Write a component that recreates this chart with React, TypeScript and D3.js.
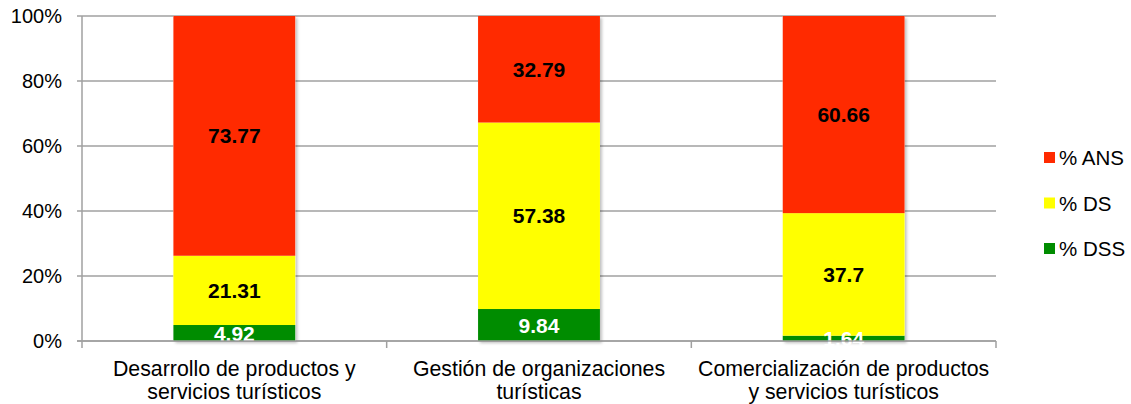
import React, { useEffect, useRef } from 'react';
import * as d3 from 'd3';

const categories = [
  ['Desarrollo de productos y', 'servicios turísticos'],
  ['Gestión de organizaciones', 'turísticas'],
  ['Comercialización de productos', 'y servicios turísticos'],
];
const seriesNames = ['% DSS', '% DS', '% ANS'];
const dss = [4.92, 9.84, 1.64];
const ds = [21.31, 57.38, 37.7];
const ans = [73.77, 32.79, 60.66];
const yTicks = [0, 20, 40, 60, 80, 100];

const colors = ['#008C00', '#FFFF00', '#FF2A00'];
const labelColors = ['#ffffff', '#000000', '#000000'];

const App = () => {
  const ref = useRef<SVGSVGElement>(null);

  useEffect(() => {
    const svg = d3.select(ref.current);
    svg.selectAll('*').remove();
    const font = 'Arial, "Liberation Sans", sans-serif';
    const left = 82, right = 996, top = 16, bottom = 341;

    const x = d3.scaleBand<number>()
      .domain(d3.range(categories.length))
      .range([left, right])
      .paddingInner(0.6)
      .paddingOuter(0.3);
    const y = d3.scaleLinear().domain([0, 100]).range([bottom, top]);

    const rows = categories.map((_, i) => ({ i, '% DSS': dss[i], '% DS': ds[i], '% ANS': ans[i] }));
    const stacked = d3.stack<any>().keys(seriesNames)(rows);

    // grid
    svg.append('g').selectAll('line').data(yTicks).join('line')
      .attr('x1', left - 5).attr('x2', right)
      .attr('y1', d => y(d)).attr('y2', d => y(d))
      .attr('stroke', '#A0A0A0').attr('stroke-width', 1.5);

    svg.append('g').selectAll('text').data(yTicks).join('text')
      .attr('x', 62).attr('y', d => y(d)).attr('dy', '0.36em')
      .attr('text-anchor', 'end')
      .style('font-family', font).style('font-size', '20px')
      .text(d => `${d}%`);

    // axes
    svg.append('line').attr('x1', left).attr('x2', left).attr('y1', top).attr('y2', bottom + 7)
      .attr('stroke', '#A0A0A0').attr('stroke-width', 1.5);
    const step = x.step();
    svg.append('g').selectAll('line').data(d3.range(1, categories.length + 1)).join('line')
      .attr('x1', d => left + d * step).attr('x2', d => left + d * step)
      .attr('y1', bottom).attr('y2', bottom + 7)
      .attr('stroke', '#A0A0A0').attr('stroke-width', 1.5);

    // shadow filter
    const defs = svg.append('defs');
    const f = defs.append('filter').attr('id', 'sh').attr('x', '-10%').attr('y', '-10%').attr('width', '130%').attr('height', '130%');
    f.append('feDropShadow').attr('dx', 2).attr('dy', 2).attr('stdDeviation', 1.5)
      .attr('flood-color', '#000').attr('flood-opacity', 0.25);

    const barsG = svg.append('g');
    barsG.append('g').attr('filter', 'url(#sh)').selectAll('rect')
      .data(categories.map((_, i) => i)).join('rect')
      .attr('x', i => x(i)!).attr('width', x.bandwidth())
      .attr('y', y(100)).attr('height', y(0) - y(100)).attr('fill', '#fff');

    stacked.forEach((s, si) => {
      barsG.append('g').selectAll('rect').data(s).join('rect')
        .attr('x', (_, i) => x(i)!).attr('width', x.bandwidth())
        .attr('y', d => y(d[1])).attr('height', d => y(d[0]) - y(d[1]))
        .attr('fill', colors[si]);
    });

    stacked.forEach((s, si) => {
      barsG.append('g').selectAll('text').data(s).join('text')
        .attr('x', (_, i) => x(i)! + x.bandwidth() / 2)
        .attr('y', d => (y(d[0]) + y(d[1])) / 2).attr('dy', '0.36em')
        .attr('text-anchor', 'middle')
        .style('font-family', font).style('font-size', '21px').style('font-weight', 'bold')
        .attr('fill', labelColors[si])
        .text(d => String(+(d[1] - d[0]).toFixed(2)));
    });

    // baseline on top
    svg.append('line').attr('x1', left - 5).attr('x2', right).attr('y1', bottom).attr('y2', bottom)
      .attr('stroke', '#A0A0A0').attr('stroke-width', 1.5);

    // category labels
    const cat = svg.append('g').selectAll('text').data(categories).join('text')
      .attr('text-anchor', 'middle')
      .style('font-family', font).style('font-size', '21.3px');
    cat.each(function (lines, i) {
      d3.select(this).selectAll('tspan').data(lines).join('tspan')
        .attr('x', x(i)! + x.bandwidth() / 2)
        .attr('y', (_, j) => 376 + j * 22.5)
        .text(d => d);
    });

    // legend
    const legendOrder = [2, 1, 0];
    const lg = svg.append('g').selectAll('g').data(legendOrder).join('g')
      .attr('transform', (_, k) => `translate(1044, ${158 + k * 45.5})`);
    lg.append('rect').attr('x', 0).attr('y', -6).attr('width', 11).attr('height', 11)
      .attr('fill', d => colors[d]);
    lg.append('text').attr('x', 15).attr('y', 0).attr('dy', '0.36em')
      .style('font-family', font).style('font-size', '20.5px')
      .text(d => seriesNames[d]);
  }, []);

  return <svg ref={ref} width={1131} height={404} style={{ position: 'absolute', left: 0, top: 0 }} />;
};

export default App;
